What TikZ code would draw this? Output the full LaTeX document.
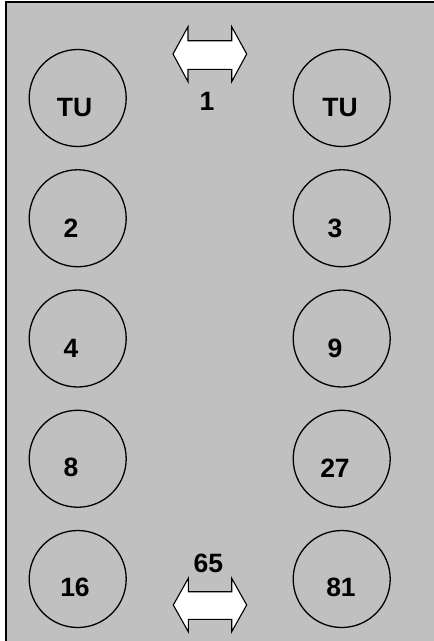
\documentclass[tikz,border=0pt]{standalone}
\usepackage{fontspec}
\setmainfont{Liberation Sans}
\begin{document}
\begin{tikzpicture}[x=1pt,y=-1pt,
  ball/.style={circle,draw=black,line width=1.3pt,minimum size=97pt,inner sep=0pt},
  lbl/.style={font=\bfseries\fontsize{26.5}{26.5}\selectfont,inner sep=0pt,anchor=center},
  dblarrow/.style={draw=black,fill=white,line width=1.1pt,line join=miter}]
\useasboundingbox (0,0) rectangle (434,641);
\begin{scope}
\clip (0,0) rectangle (434,641);
\draw[fill={rgb,255:red,192;green,192;blue,192},line width=2pt] (5.5,2) rectangle (445,655);
\end{scope}
% circles
\foreach \i/\n in {0/a,1/b,2/c,3/d,4/e}{
  \node[ball] (L\n) at (77.7,{98+120.25*\i}) {};
  \node[ball] (R\n) at (341.7,{98+120.25*\i}) {};
}
\node[lbl] (tL) at (74.5,108) {TU};
\node[lbl] (tR) at (340,108) {TU};
\node[lbl] (t2) at (71,228.3) {2};
\node[lbl] (t3) at (335,228.3) {3};
\node[lbl] (t4) at (71,348.3) {4};
\node[lbl] (t9) at (335,348.3) {9};
\node[lbl] (t8) at (71,467.8) {8};
\node[lbl] (t27) at (335,467.8) {27};
\node[lbl] (t16) at (75,587.8) {16};
\node[lbl] (t81) at (341,587.8) {81};
% double arrows
\draw[dblarrow] (173,54) -- (188,26.7) -- (188,40.7) -- (231.7,40.7) -- (231.7,26.7) -- (246.7,54)
  -- (231.7,81.7) -- (231.7,69.3) -- (188,69.3) -- (188,81.7) -- cycle;
\draw[dblarrow] (173.3,605) -- (188.3,578.3) -- (188.3,591.7) -- (231.7,591.7) -- (231.7,578.3) -- (246.7,605)
  -- (231.7,631.7) -- (231.7,619.3) -- (188.3,619.3) -- (188.3,631.7) -- cycle;
\node[lbl] (n1) at (207,101.7) {1};
\node[lbl] (n65) at (208.3,563.3) {65};
\end{tikzpicture}
\end{document}
